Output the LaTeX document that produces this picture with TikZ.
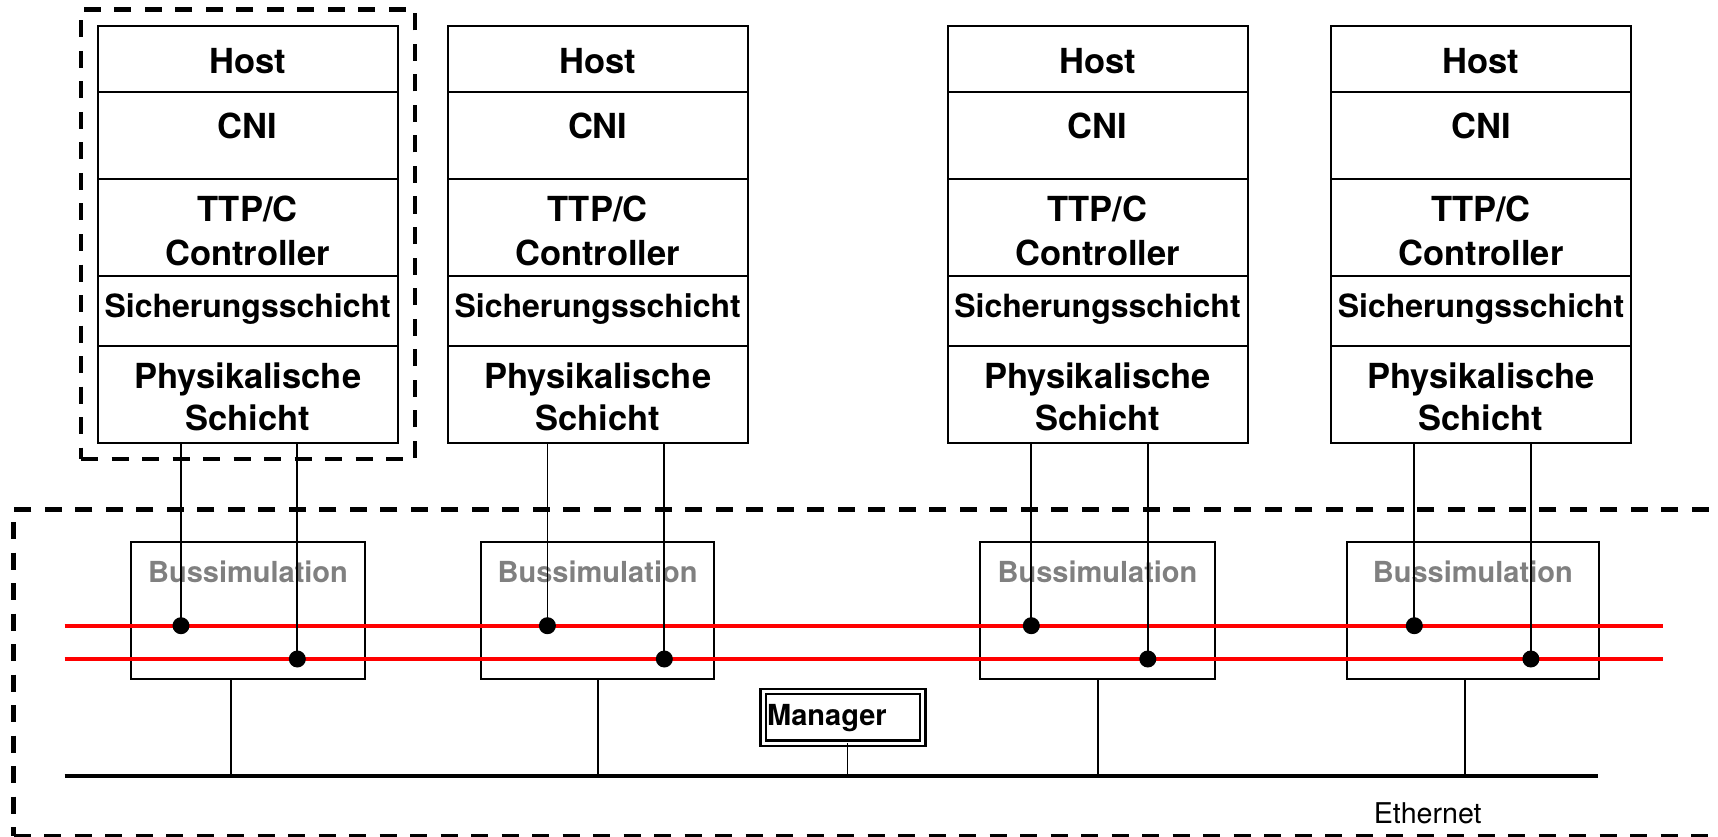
\documentclass[tikz,border=0pt]{standalone}
\usepackage{fontspec}
\setmainfont{TeX Gyre Heros}
\usetikzlibrary{fit}
\definecolor{simgray}{RGB}{128,128,128}
\definecolor{busred}{RGB}{255,0,0}
\tikzset{
  layer/.style={draw, line width=2pt, minimum width=300pt, anchor=north west,
    inner sep=0pt, outer sep=0pt},
  laytext/.style={anchor=base, inner sep=0pt,
    font=\fontsize{34.5pt}{40pt}\selectfont\bfseries},
  smalllay/.style={laytext, font=\fontsize{32pt}{38pt}\selectfont\bfseries},
  busbox/.style={draw, line width=2pt, inner sep=0pt, outer sep=0pt},
  bustext/.style={anchor=base, inner sep=0pt, text=simgray,
    font=\fontsize{29pt}{34pt}\selectfont\bfseries},
  frame/.style={draw, line width=4.5pt, dash pattern=on 17pt off 13.5pt,
    inner sep=0pt, outer sep=0pt},
  redbus/.style={draw=busred, line width=4pt},
  ether/.style={draw, line width=4pt},
  wire/.style={draw, line width=1.8pt},
  tapdot/.style={circle, fill=black, minimum size=17pt, inner sep=0pt},
  mgrbox/.style={draw, double, line width=2.4pt, double distance=3pt,
    inner sep=0pt, outer sep=0pt},
}
\begin{document}
\begin{tikzpicture}[x=1pt, y=-1pt]
\useasboundingbox (0,0) rectangle (1718,837);

% dashed frames: one node, and the simulated bus environment
\node[frame, fit={(81,9.5) (415,459)}] (nodeframe) {};
\node[frame, fit={(13.7,509.3) (1750,836.3)}] (simframe) {};

% four nodes with their layer stacks and bus simulation boxes
\foreach \i/\x/\bl/\br in {1/97.7/131/365, 2/447.7/481/714.2,
                           3/947.5/980.4/1214.6, 4/1331/1347/1598.7}{
  \node[layer, minimum height=66.3pt] (host\i) at (\x,26) {};
  \node[layer, minimum height=86.7pt] (cni\i)  at (\x,92.3) {};
  \node[layer, minimum height=97pt]   (ttp\i)  at (\x,179) {};
  \node[layer, minimum height=69.7pt] (sich\i) at (\x,276) {};
  \node[layer, minimum height=97.3pt] (phys\i) at (\x,345.7) {};
  \node[laytext]  (thost\i)  at (\x+150,73.3)  {Host};
  \node[laytext]  (tcni\i)   at (\x+150,138.3) {CNI};
  \node[laytext]  (tttp\i)   at (\x+150,221.7) {TTP/C};
  \node[laytext]  (tctrl\i)  at (\x+150,265)   {Controller};
  \node[smalllay] (tsich\i)  at (\x+150,317.7) {Sicherungsschicht};
  \node[laytext]  (tphys\i)  at (\x+150,388.3) {Physikalische};
  \node[laytext]  (tschi\i)  at (\x+150,430)   {Schicht};
  \node[busbox, fit={(\bl,542.3) (\br,679.3)}] (bus\i) {};
  \node[bustext] (tbus\i) at ({(\bl+\br)/2},582.7) {Bussimulation};
}

% the two redundant TTP/C channels
\coordinate (chAL) at (64.7,625.7);
\coordinate (chAR) at (1663.3,625.7);
\coordinate (chBL) at (64.7,659);
\coordinate (chBR) at (1663.3,659);
\draw[redbus] (chAL) -- (chAR);
\draw[redbus] (chBL) -- (chBR);

% Ethernet backbone
\coordinate (ethL) at (64.7,775.7);
\coordinate (ethR) at (1597.6,775.7);
\draw[ether] (ethL) -- (ethR);

% channel taps and Ethernet taps
\foreach \i/\da/\db/\bc in {1/181/297.3/231, 2/547.4/664.3/598,
                            3/1031.3/1147.8/1098, 4/1414.3/1530.9/1464.7}{
  \node[tapdot] (dA\i) at (\da,625.7) {};
  \node[tapdot] (dB\i) at (\db,659) {};
  \coordinate (tap\i) at (\bc,775.7);
  \draw[wire] (phys\i.south -| dA\i) -- (dA\i.center);
  \draw[wire] (phys\i.south -| dB\i) -- (dB\i.center);
  \draw[wire] (bus\i.south -| tap\i) -- (tap\i);
}

% manager
\node[mgrbox, fit={(763.35,691.5) (922.65,743)}] (manager) {};
\node[anchor=base west, inner sep=0pt,
  font=\fontsize{29pt}{34pt}\selectfont\bfseries] (tmanager) at (767,725.7) {Manager};
\coordinate (mtap) at (847.4,775.7);
\draw[wire] (manager.south -| mtap) -- (mtap);

\node[anchor=base west, inner sep=0pt,
  font=\fontsize{28.6pt}{34pt}\selectfont] (tether) at (1373.7,823.3) {Ethernet};
\end{tikzpicture}
\end{document}
